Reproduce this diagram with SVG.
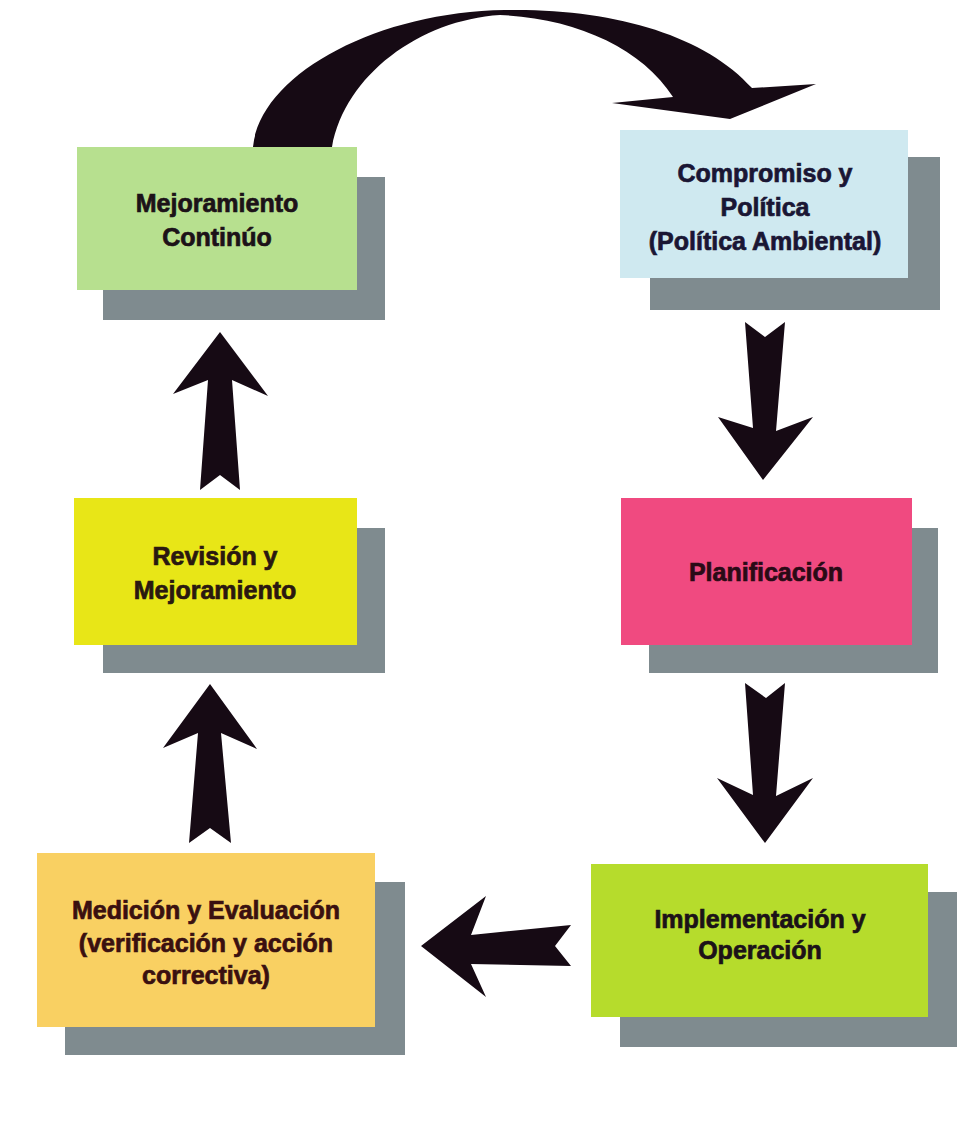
<svg xmlns="http://www.w3.org/2000/svg" width="959" height="1122" viewBox="0 0 959 1122">
  <style>
    .shadow { fill: #7f8b8f; }
    .label { font-family: "Liberation Sans", Arial, sans-serif; font-weight: bold; font-size: 25px; text-anchor: middle; fill: #1c1218; stroke: #1c1218; stroke-width: 0.7px; }
    .navy { fill: #1a1634; stroke: #1a1634; }
    .wine { fill: #2a0a16; stroke: #2a0a16; }
    .brown { fill: #3a1010; stroke: #3a1010; }
    .umber { fill: #2a1810; stroke: #2a1810; }
    .arrow { fill: #160a14; }
  </style>
  <rect width="959" height="1122" fill="#ffffff"/>

  <!-- connectors -->
  <g id="connectors">
    <!-- curved return arrow: Mejoramiento Continúo -> Compromiso y Política -->
    <path class="arrow" d="M253,147 C260,75 375,12 505,10 C612,8 705,35 752,88 L816,84 L730,119 L612,103 L673,97 C642,48 575,18 500,15 C420,20 345,75 332,147 Z"/>
    <!-- Compromiso -> Planificación -->
    <path class="arrow" d="M745,322 L765,337 L785,322 L776,431 L813,417 L763,480 L718,417 L753,428 Z"/>
    <!-- Planificación -> Implementación -->
    <path class="arrow" d="M745,683 L766,698 L785,683 L776,796 L813,778 L765,843 L717,778 L753,795 Z"/>
    <!-- Implementación -> Medición -->
    <path class="arrow" d="M571,925 L555,946 L571,966 L471,964 L486,997 L421,946 L486,896 L471,935 Z"/>
    <!-- Medición -> Revisión -->
    <path class="arrow" d="M189,843 L210,828 L231,843 L221,733 L257,749 L210,684 L163,748 L198,733 Z"/>
    <!-- Revisión -> Mejoramiento Continúo -->
    <path class="arrow" d="M200,490 L220,475 L240,490 L232,380 L268,396 L220,332 L173,394 L208,380 Z"/>
  </g>

  <g id="node-mejoramiento-continuo">
    <rect class="shadow" x="103" y="177" width="282" height="143"/>
    <rect x="77" y="147" width="280" height="143" fill="#b7e08f"/>
    <text class="label" x="217" y="212">Mejoramiento</text>
    <text class="label" x="217" y="246">Continúo</text>
  </g>

  <g id="node-compromiso">
    <rect class="shadow" x="650" y="157" width="290" height="153"/>
    <rect x="620" y="130" width="288" height="148" fill="#cfe9f0"/>
    <text class="label navy" x="765" y="182">Compromiso y</text>
    <text class="label navy" x="765" y="216">Política</text>
    <text class="label navy" x="765" y="250">(Política Ambiental)</text>
  </g>

  <g id="node-planificacion">
    <rect class="shadow" x="649" y="528" width="289" height="145"/>
    <rect x="621" y="498" width="291" height="147" fill="#f04a80"/>
    <text class="label wine" x="766" y="581">Planificación</text>
  </g>

  <g id="node-implementacion">
    <rect class="shadow" x="620" y="892" width="337" height="155"/>
    <rect x="591" y="864" width="337" height="153" fill="#b6dc2c"/>
    <text class="label" x="760" y="928">Implementación y</text>
    <text class="label" x="760" y="959">Operación</text>
  </g>

  <g id="node-medicion">
    <rect class="shadow" x="65" y="882" width="340" height="173"/>
    <rect x="37" y="853" width="338" height="174" fill="#f9d062"/>
    <text class="label brown" x="206" y="919">Medición y Evaluación</text>
    <text class="label brown" x="206" y="952">(verificación y acción</text>
    <text class="label brown" x="206" y="984">correctiva)</text>
  </g>

  <g id="node-revision">
    <rect class="shadow" x="103" y="528" width="282" height="145"/>
    <rect x="74" y="498" width="283" height="147" fill="#e8e617"/>
    <text class="label umber" x="215" y="565">Revisión y</text>
    <text class="label umber" x="215" y="599">Mejoramiento</text>
  </g>
</svg>
